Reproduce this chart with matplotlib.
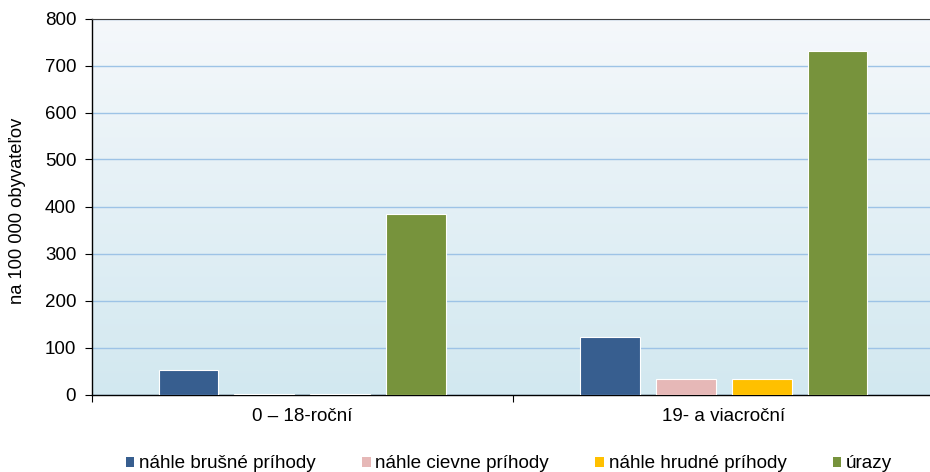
import matplotlib
matplotlib.use("Agg")
import matplotlib.pyplot as plt
import numpy as np
from matplotlib.patches import Patch

categories = ["0 – 18-roční", "19- a viacroční"]
series_names = ["náhle brušné príhody", "náhle cievne príhody", "náhle hrudné príhody", "úrazy"]
brusne = [52, 122]
cievne = [0.5, 32]
hrudne = [1.5, 32]
urazy = [384, 730]
colors = ["#375e8f", "#e6b8b7", "#ffc000", "#77933c"]
yticks = [0, 100, 200, 300, 400, 500, 600, 700, 800]

plt.rcParams['font.family'] = ['Liberation Sans', 'DejaVu Sans']

W, H = 930, 472
fig = plt.figure(figsize=(W / 100, H / 100), dpi=100)
left, right, top, bottom = 91.5, 934.5, 18.5, 394.5
ax = fig.add_axes([left / W, 1 - bottom / H, (right - left) / W, (bottom - top) / H])

# gradient background
grad = np.linspace(0, 1, 256).reshape(-1, 1)
c_top = np.array([0xf5, 0xf8, 0xfb]) / 255
c_bot = np.array([0xd2, 0xe8, 0xf0]) / 255
img = c_top[None, None, :] * (1 - grad[:, :, None]) + c_bot[None, None, :] * grad[:, :, None]
ax.imshow(img, extent=[0, 1, 0, 1], transform=ax.transAxes, aspect='auto', zorder=0)

data = [brusne, cievne, hrudne, urazy]
x = np.arange(len(categories))
step = 0.180
width = 0.142
for i, (vals, col) in enumerate(zip(data, colors)):
    ax.bar(x + (i - 1.5) * step, vals, width=width, color=col, edgecolor='white',
           linewidth=0.8, zorder=3)

ax.set_xlim(-0.5, 1.5)
ax.set_ylim(0, 800)
ax.set_yticks(yticks)
ax.set_yticklabels([str(v) for v in yticks], fontsize=13.5)
ax.yaxis.grid(True, color='#9dc3e6', linewidth=1.0, zorder=1)
ax.set_axisbelow(True)

ax.set_xticks([-0.5, 0.5, 1.5])
ax.set_xticklabels([])
ax.set_xticks(x, minor=True)
ax.set_xticklabels(categories, minor=True, fontsize=13.5)
ax.tick_params(axis='x', which='minor', length=0, pad=10)
ax.tick_params(axis='x', which='major', length=5, direction='out', color='black')
ax.tick_params(axis='y', length=5, direction='out', pad=6)

for s in ['left', 'bottom']:
    ax.spines[s].set_color('black')
    ax.spines[s].set_linewidth(1.0)
ax.spines['right'].set_visible(False)
ax.spines['top'].set_color('#404040')
ax.spines['top'].set_linewidth(0.8)

ax.set_ylabel("na 100 000 obyvateľov", fontsize=13.2)
ax.yaxis.set_label_coords(-65 / (right - left), 0.488)

handles = [Patch(facecolor=c, edgecolor='none') for c in colors]
fig.legend(handles, series_names, loc='center', bbox_to_anchor=(509 / W, 1 - 464 / H), ncol=4,
           frameon=False, fontsize=13.6, handlelength=0.45, handleheight=0.45,
           handletextpad=0.25, columnspacing=2.45, borderpad=0)

fig.savefig("out.png", dpi=100)
